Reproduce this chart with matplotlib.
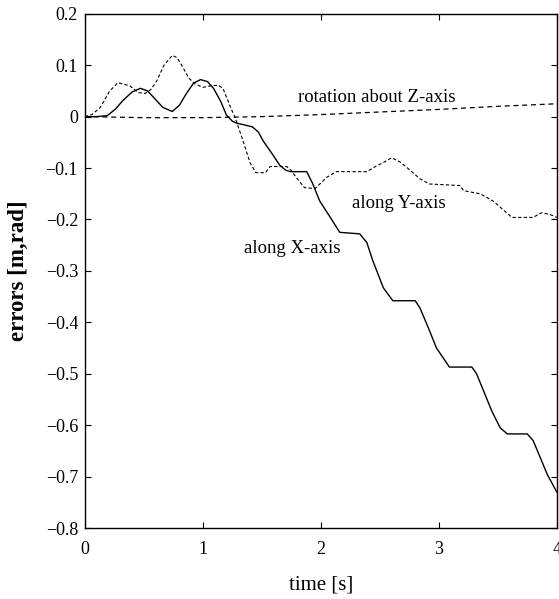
import matplotlib
matplotlib.use("Agg")
import matplotlib.pyplot as plt
from matplotlib.ticker import FuncFormatter

# error along X (solid)
t_x = [0, 0.10, 0.19, 0.26, 0.32, 0.40, 0.47, 0.53, 0.60, 0.66, 0.74, 0.80, 0.86, 0.92,
       0.98, 1.04, 1.09, 1.15, 1.20, 1.25, 1.29, 1.35, 1.42, 1.47, 1.51, 1.58, 1.65, 1.70,
       1.74, 1.88, 1.93, 1.99, 2.08, 2.16, 2.33, 2.39, 2.44, 2.53, 2.61, 2.80, 2.84, 2.91,
       2.98, 3.09, 3.28, 3.32, 3.45, 3.52, 3.58, 3.75, 3.80, 3.92, 4.0]
err_x = [0, 0, 0.002, 0.015, 0.031, 0.048, 0.055, 0.05, 0.033, 0.018, 0.01, 0.022, 0.045,
         0.065, 0.072, 0.068, 0.055, 0.03, 0.003, -0.009, -0.013, -0.016, -0.02, -0.03,
         -0.047, -0.07, -0.094, -0.104, -0.107, -0.107, -0.13, -0.164, -0.196, -0.225,
         -0.228, -0.245, -0.28, -0.333, -0.358, -0.358, -0.372, -0.41, -0.45, -0.487,
         -0.487, -0.50, -0.573, -0.605, -0.617, -0.617, -0.63, -0.696, -0.73]

# error along Y (dashed)
t_y = [0, 0.06, 0.13, 0.21, 0.28, 0.38, 0.45, 0.51, 0.56, 0.61, 0.67, 0.74, 0.78, 0.83,
       0.88, 0.93, 1.0, 1.07, 1.13, 1.17, 1.20, 1.24, 1.27, 1.34, 1.40, 1.45, 1.53, 1.57,
       1.71, 1.75, 1.79, 1.86, 1.95, 2.05, 2.13, 2.39, 2.47, 2.54, 2.60, 2.67, 2.73, 2.84,
       2.92, 3.18, 3.21, 3.35, 3.46, 3.54, 3.62, 3.80, 3.87, 3.94, 4.0]
err_y = [0, 0.004, 0.018, 0.05, 0.066, 0.06, 0.047, 0.045, 0.053, 0.07, 0.1, 0.119, 0.115,
         0.096, 0.075, 0.064, 0.057, 0.06, 0.061, 0.055, 0.038, 0.015, 0.0, -0.047, -0.09,
         -0.109, -0.109, -0.097, -0.097, -0.105, -0.118, -0.138, -0.14, -0.118, -0.107,
         -0.107, -0.096, -0.088, -0.08, -0.088, -0.099, -0.121, -0.131, -0.134, -0.144,
         -0.15, -0.164, -0.18, -0.196, -0.196, -0.187, -0.19, -0.196]

# rotation about Z (dashed)
t_z = [0, 0.5, 1.0, 1.5, 2.0, 2.5, 3.0, 3.5, 4.0]
err_z = [0, -0.002, -0.002, 0.0, 0.004, 0.009, 0.014, 0.02, 0.025]

x_ticks = [0, 1, 2, 3, 4]
y_ticks = [0.2, 0.1, 0, -0.1, -0.2, -0.3, -0.4, -0.5, -0.6, -0.7, -0.8]

plt.rcParams['font.family'] = ['Liberation Serif', 'DejaVu Serif']


def fmt_y(v, pos):
    if abs(v) < 1e-9:
        return '0'
    return f'{v:.1f}'.replace('-', '\u2212')


def main():
    fig = plt.figure(figsize=(5.59, 5.99), dpi=100)
    ax = fig.add_axes([0.152, 0.1185, 0.844, 0.8585])

    ax.plot(t_x, err_x, color='black', lw=1.0)
    ax.plot(t_y, err_y, color='black', lw=0.8, dashes=(3, 2))
    ax.plot(t_z, err_z, color='black', lw=0.9, dashes=(4, 3))

    ax.set_xlim(0, 4)
    ax.set_ylim(-0.8, 0.2)
    ax.set_xticks(x_ticks)
    ax.set_yticks(y_ticks)
    ax.yaxis.set_major_formatter(FuncFormatter(fmt_y))
    ax.tick_params(direction='in', top=True, right=True, length=4, width=0.8,
                   labelsize=13)
    ax.tick_params(axis='x', pad=9)
    ax.tick_params(axis='y', pad=5)
    for s in ax.spines.values():
        s.set_linewidth(1.0)

    ax.text(2.47, 0.037, 'rotation about Z-axis', ha='center', va='center', fontsize=13.5)
    ax.text(2.66, -0.168, 'along Y-axis', ha='center', va='center', fontsize=13.5)
    ax.text(1.76, -0.257, 'along X-axis', ha='center', va='center', fontsize=13.5)

    ax.set_xlabel('time [s]', fontsize=15, labelpad=13)
    ax.set_ylabel('errors [m,rad]', fontsize=16.5, fontweight='bold', labelpad=12)

    fig.savefig('out.png', dpi=100)


if __name__ == "__main__":
    main()
